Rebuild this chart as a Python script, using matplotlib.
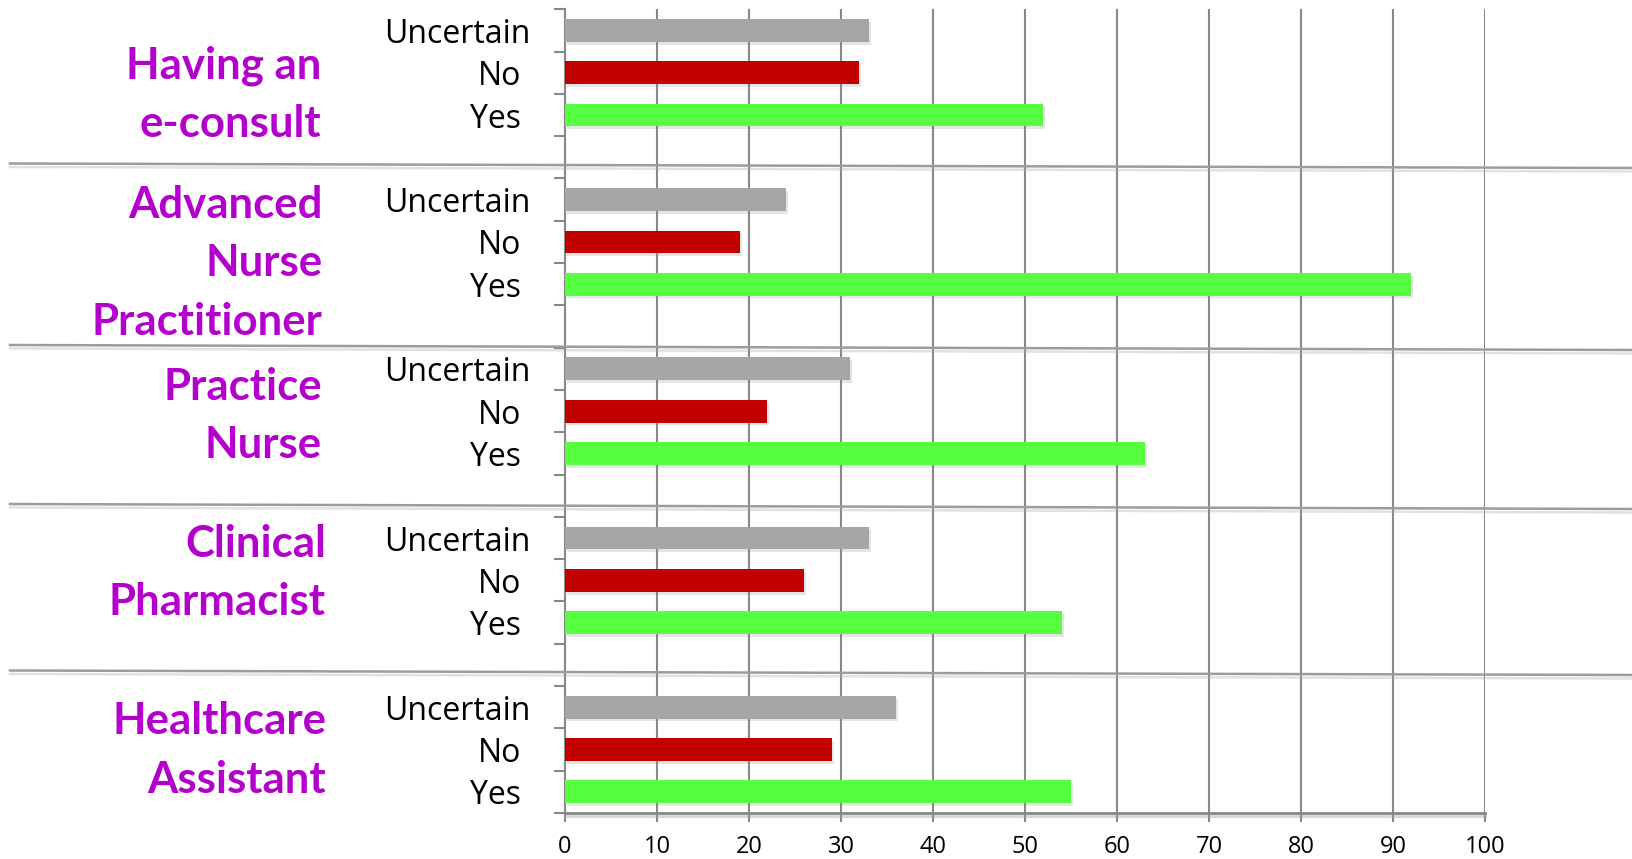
import matplotlib
matplotlib.use("Agg")
import matplotlib.pyplot as plt
import matplotlib.patheffects as pe
from matplotlib.lines import Line2D
from matplotlib.transforms import ScaledTranslation

# ---- data -------------------------------------------------------------
groups = [
    ["Having an", "e-consult"],
    ["Advanced", "Nurse", "Practitioner"],
    ["Practice", "Nurse"],
    ["Clinical", "Pharmacist"],
    ["Healthcare", "Assistant"],
]
responses = ["Uncertain", "No", "Yes"]
uncertain = [33, 24, 31, 33, 36]
no = [32, 19, 22, 26, 29]
yes = [52, 92, 63, 54, 55]
x_ticks = [0, 10, 20, 30, 40, 50, 60, 70, 80, 90, 100]

series = {"Uncertain": uncertain, "No": no, "Yes": yes}
colors = {"Uncertain": "#A6A6A6", "No": "#C30000", "Yes": "#55FF40"}

# ---- styling ----------------------------------------------------------
plt.rcParams["font.family"] = ["Lato", "DejaVu Sans"]
LABEL_FONT = ["Open Sans", "DejaVu Sans"]
GRID = "#888888"
PURPLE = "#B400CC"

W, H = 1632, 859
fig = plt.figure(figsize=(W / 100, H / 100), dpi=100)
fig.patch.set_facecolor("white")

ax_top, ax_bot, ax_left, ax_right = 9.3, 813.0, 565.0, 1485.0
ax = fig.add_axes([ax_left / W, 1 - ax_bot / H,
                   (ax_right - ax_left) / W, (ax_bot - ax_top) / H])

slots_per_group = 4
n_slots = slots_per_group * len(groups) - 1
ax.set_xlim(0, 100)
ax.set_ylim(n_slots, 0)

bar_h = 0.54
shadow = [pe.SimplePatchShadow(offset=(1.5, -2), shadow_rgbFace="#8a8a8a", alpha=0.22),
          pe.Normal()]
for r, resp in enumerate(responses):
    ys = [g * slots_per_group + r + 0.5 for g in range(len(groups))]
    bars = ax.barh(ys, series[resp], height=bar_h, color=colors[resp],
                   edgecolor="none", zorder=3)
    for b in bars:
        b.set_path_effects(shadow)

# vertical gridlines
ax.set_xticks(x_ticks)
ax.xaxis.grid(True, color=GRID, linewidth=1.5, zorder=1)
ax.yaxis.grid(False)
ax.set_axisbelow(True)

for side in ("top", "right"):
    ax.spines[side].set_visible(False)
ax.spines["left"].set_color(GRID)
ax.spines["left"].set_linewidth(1.5)
ax.spines["bottom"].set_color(GRID)
ax.spines["bottom"].set_linewidth(2.0)
ax.spines["bottom"].set_path_effects(
    [pe.SimpleLineShadow(offset=(0, -2), shadow_color="#999999", alpha=0.4), pe.Normal()])

ax.tick_params(axis="x", direction="out", length=6.5, width=1.5, color=GRID,
               labelsize=17, pad=9.5, labelcolor="black")
ax.set_xticklabels([str(t) for t in x_ticks], fontfamily=LABEL_FONT)

# category ticks on the slot boundaries, labels on the slot centres
ax.set_yticks(range(n_slots + 1))
ax.set_yticklabels([])
ax.tick_params(axis="y", which="major", direction="out", length=8, width=1.5, color=GRID)

centers, labels = [], []
for g in range(len(groups)):
    for r, resp in enumerate(responses):
        centers.append(g * slots_per_group + r + 0.5)
        labels.append(resp)
ax.set_yticks(centers, minor=True)
ax.set_yticklabels(labels, minor=True, fontfamily=LABEL_FONT)
ax.tick_params(axis="y", which="minor", length=0, pad=25, labelsize=23)
for lab in ax.get_yticklabels(minor=True):
    if lab.get_text() != "Uncertain":
        lab.set_transform(lab.get_transform() +
                          ScaledTranslation(-9 / 100, 0, fig.dpi_scale_trans))

# group titles on the left
first_baselines = [78.3, 218.0, 400.0, 556.7, 734.3]
right_edges = [321.0, 322.5, 322.0, 326.0, 326.0]
line_step = 58.3
for lines, base, xr in zip(groups, first_baselines, right_edges):
    for i, txt in enumerate(lines):
        fig.text(xr / W, 1 - (base + i * line_step) / H, txt, ha="right",
                 va="baseline", color=PURPLE, fontsize=31.5, fontweight="bold")

# separators between the groups
separators = [(163.5, 168.0), (345.0, 350.0), (504.0, 509.0), (670.5, 675.0)]
for y0, y1 in separators:
    fig.add_artist(Line2D([10 / W, 1.0], [1 - y0 / H, 1 - y1 / H],
                          transform=fig.transFigure, color="#9C9C9C", linewidth=1.8,
                          zorder=5,
                          path_effects=[pe.SimpleLineShadow(offset=(0, -2.5),
                                                            shadow_color="#aaaaaa",
                                                            alpha=0.35),
                                        pe.Normal()]))

fig.savefig("out.png", dpi=100, facecolor="white")
